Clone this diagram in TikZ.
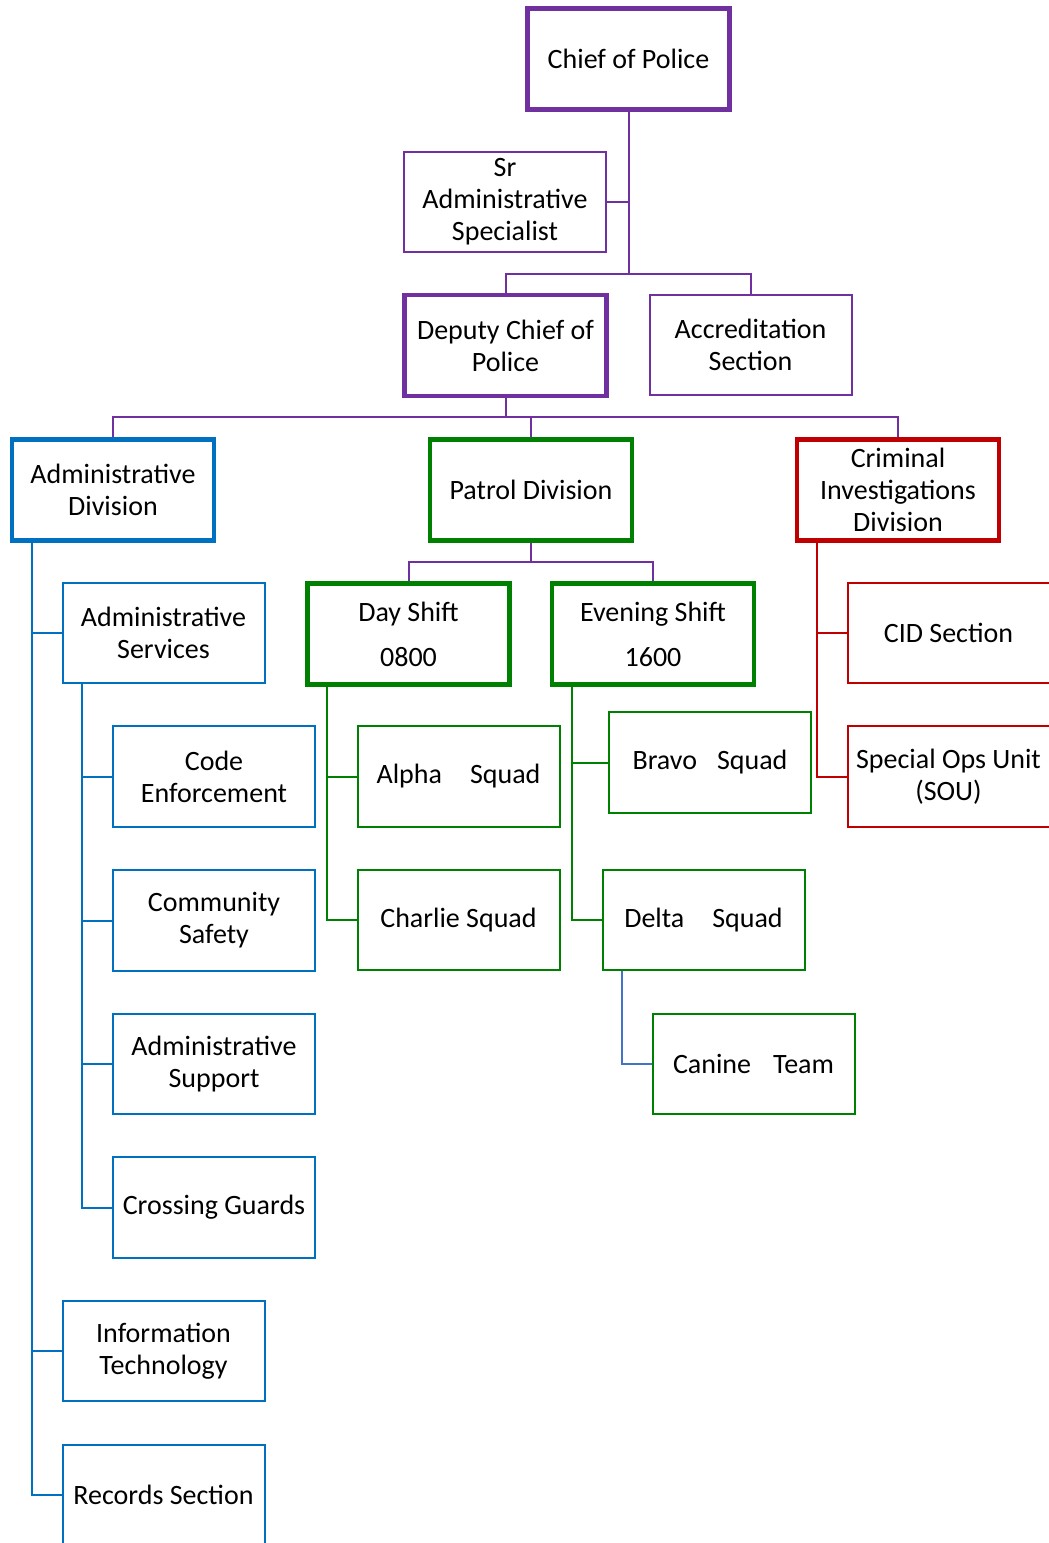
\documentclass[tikz,border=0pt]{standalone}
\usepackage{fontspec}
\setmainfont{Carlito}
\definecolor{cpurple}{HTML}{7030A0}
\definecolor{cblue}{HTML}{0070C0}
\definecolor{cgreen}{HTML}{008000}
\definecolor{cred}{HTML}{C00000}
\definecolor{cline}{HTML}{4472C4}
\begin{document}
\begin{tikzpicture}[x=0.75pt,y=-0.75pt,
  box/.style={draw,rectangle,minimum width=151.5pt,minimum height=75.5pt,inner sep=0pt,
    align=center,font=\fontsize{21}{24}\selectfont,fill=white},
  thin/.style={box,line width=1.5pt},
  thick/.style={box,line width=3.4pt},
  conn/.style={line width=1.5pt}]
\useasboundingbox (0,0) rectangle (1049,1543);
% top
\node[thick,draw=cpurple] (chief) at (628.5,59) {Chief of Police};
\node[thin,draw=cpurple] (sr) at (505,202) {Sr\\Administrative\\Specialist};
\node[thick,draw=cpurple] (deputy) at (505.5,345.5) {Deputy Chief of\\Police};
\node[thin,draw=cpurple] (accr) at (750.5,345) {Accreditation\\Section};
% divisions
\node[thick,draw=cblue] (admdiv) at (113,490) {Administrative\\Division};
\node[thick,draw=cgreen] (patrol) at (531,490) {Patrol Division};
\node[thick,draw=cred] (cid) at (898,490) {Criminal\\Investigations\\Division};
% admin
\node[thin,draw=cblue] (admsvc) at (163.5,633) {Administrative\\Services};
\node[thin,draw=cblue] (code) at (214,776.5) {Code\\Enforcement};
\node[thin,draw=cblue] (comm) at (214,920.5) {Community\\Safety};
\node[thin,draw=cblue] (admsup) at (214,1064) {Administrative\\Support};
\node[thin,draw=cblue] (cross) at (214,1207.5) {Crossing Guards};
\node[thin,draw=cblue] (it) at (163.5,1351) {Information\\Technology};
\node[thin,draw=cblue] (rec) at (163.5,1495) {Records Section};
% patrol
\node[thick,draw=cgreen] (day) at (408.5,634) {Day Shift\\[9.75pt]0800};
\node[thick,draw=cgreen] (eve) at (653,634) {Evening Shift\\[9.75pt]1600};
\node[thin,draw=cgreen] (alpha) at (458.5,776.5) {Alpha\hspace{21pt}Squad};
\node[thin,draw=cgreen] (charlie) at (458.5,920) {Charlie Squad};
\node[thin,draw=cgreen] (bravo) at (710,762.5) {Bravo\hspace{15pt}Squad};
\node[thin,draw=cgreen] (delta) at (703.5,920) {Delta\hspace{21pt}Squad};
\node[thin,draw=cgreen] (canine) at (753.5,1064) {Canine\hspace{16.5pt}Team};
% cid
\node[thin,draw=cred] (cidsec) at (948.5,633) {CID Section};
\node[thin,draw=cred] (sou) at (948.5,776.5) {Special Ops Unit\\(SOU)};
% connectors
\begin{scope}[conn,draw=cpurple]
\coordinate (j1) at (chief.south |- 0,274);
\draw (chief.south) -- (j1);
\draw (sr.east) -- (sr.east -| chief.south);
\draw (j1) -| (deputy.north);
\draw (j1) -| (accr.north);
\coordinate (j2) at (deputy.south |- 0,417);
\draw (deputy.south) -- (j2);
\draw (j2) -| (admdiv.north);
\draw (j2) -| (patrol.north);
\draw (j2) -| (cid.north);
\coordinate (j3) at (patrol.south |- 0,562);
\draw (patrol.south) -- (j3);
\draw (j3) -| (day.north);
\draw (j3) -| (eve.north);
\end{scope}
\begin{scope}[conn,draw=cblue]
\coordinate (a0) at (admdiv.south -| 32,0);
\draw (a0) |- (admsvc.west);
\draw (a0) |- (it.west);
\draw (a0) |- (rec.west);
\coordinate (s0) at (admsvc.south -| 82,0);
\draw (s0) |- (code.west);
\draw (s0) |- (comm.west);
\draw (s0) |- (admsup.west);
\draw (s0) |- (cross.west);
\end{scope}
\begin{scope}[conn,draw=cgreen]
\coordinate (d0) at (day.south -| 327,0);
\draw (d0) |- (alpha.west);
\draw (d0) |- (charlie.west);
\coordinate (e0) at (eve.south -| 572,0);
\draw (e0) |- (bravo.west);
\draw (e0) |- (delta.west);
\end{scope}
\begin{scope}[conn,draw=cline]
\coordinate (k0) at (delta.south -| 622,0);
\draw (k0) |- (canine.west);
\end{scope}
\begin{scope}[conn,draw=cred]
\coordinate (c0) at (cid.south -| 817,0);
\draw (c0) |- (cidsec.west);
\draw (c0) |- (sou.west);
\end{scope}
\end{tikzpicture}
\end{document}
